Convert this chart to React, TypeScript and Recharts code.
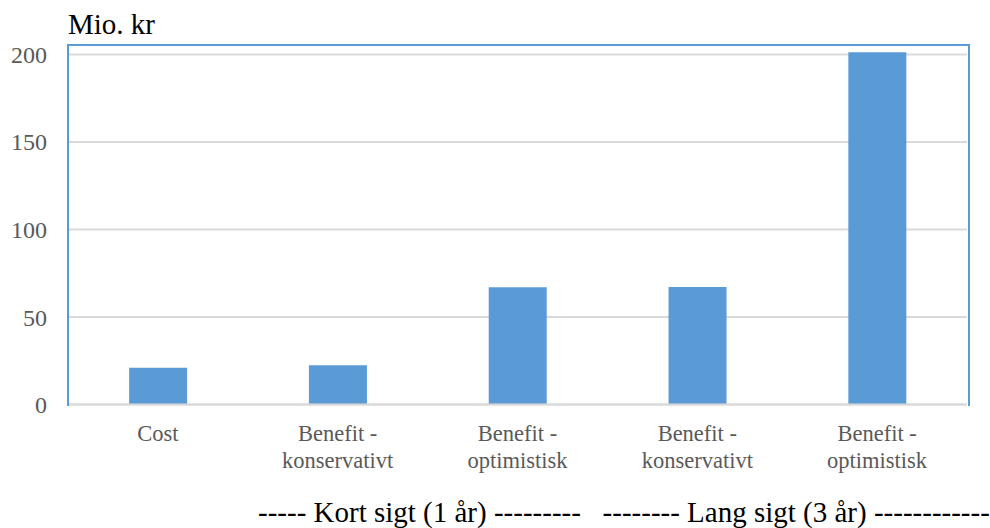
import React from 'react';
import { BarChart, Bar, XAxis, YAxis, CartesianGrid } from 'recharts';

const categories = [
  ['Cost'],
  ['Benefit -', 'konservativt'],
  ['Benefit -', 'optimistisk'],
  ['Benefit -', 'konservativt'],
  ['Benefit -', 'optimistisk'],
];
const values = [21, 22.4, 67, 67.1, 201.3];
const yTicks = [0, 50, 100, 150, 200];
const unitLabel = 'Mio. kr';
const periodLabel = '----- Kort sigt (1 år) ---------   -------- Lang sigt (3 år) ------------';

const data = categories.map((c, i) => ({ key: String(i), lines: c, value: values[i] }));

const FONT = '"Liberation Serif", "Times New Roman", serif';

const CatTick = (props: any) => {
  const { x, y, payload } = props;
  const lines = data[Number(payload.value)].lines;
  return (
    <text x={x} y={y} textAnchor="middle" fill="#595959" fontFamily={FONT} fontSize={22.5}>
      {lines.map((l: string, i: number) => (
        <tspan key={i} x={x} dy={i === 0 ? 28 : 27}>{l}</tspan>
      ))}
    </text>
  );
};

export default function App() {
  const left = 68, top = 45, right = 967, bottom = 404.5;
  return (
    <div style={{ position: 'absolute', left: 0, top: 0, width: 990, height: 528, background: '#fff', overflow: 'hidden' }}>
      <BarChart
        width={990}
        height={528}
        data={data}
        margin={{ top: top, right: 990 - right, left: 0, bottom: 528 - bottom - 60 }}
        barCategoryGap="34%"
      >
        <CartesianGrid vertical={false} stroke="#D9D9D9" strokeWidth={2} />
        <YAxis
          width={left}
          domain={[0, 205.4]}
          ticks={yTicks}
          axisLine={false}
          tickLine={false}
          tickSize={0}
          tickMargin={21}
          tick={{ fill: '#595959', fontFamily: FONT, fontSize: 24 }}
          interval={0}
          allowDataOverflow
        />
        <XAxis
          dataKey="key"
          height={60}
          tick={<CatTick />}
          tickLine={false}
          axisLine={{ stroke: '#D9D9D9', strokeWidth: 2 }}
          interval={0}
        />
        <Bar dataKey="value" fill="#5B9BD5" isAnimationActive={false} />
      </BarChart>
      <div
        style={{
          position: 'absolute',
          left: left - 1,
          top: top - 1,
          width: right - left,
          height: bottom - top,
          borderLeft: '2px solid #5B9BD5',
          borderTop: '2px solid #5B9BD5',
          borderRight: '2px solid #5B9BD5',
          pointerEvents: 'none',
        }}
      />
      <div style={{ position: 'absolute', left: 68, top: 7, fontFamily: FONT, fontSize: 29, color: '#000', lineHeight: '34px' }}>
        {unitLabel}
      </div>
      <div style={{ position: 'absolute', left: 258, top: 496, fontFamily: FONT, fontSize: 29, color: '#000', whiteSpace: 'pre', lineHeight: '32px' }}>
        {periodLabel}
      </div>
    </div>
  );
}
